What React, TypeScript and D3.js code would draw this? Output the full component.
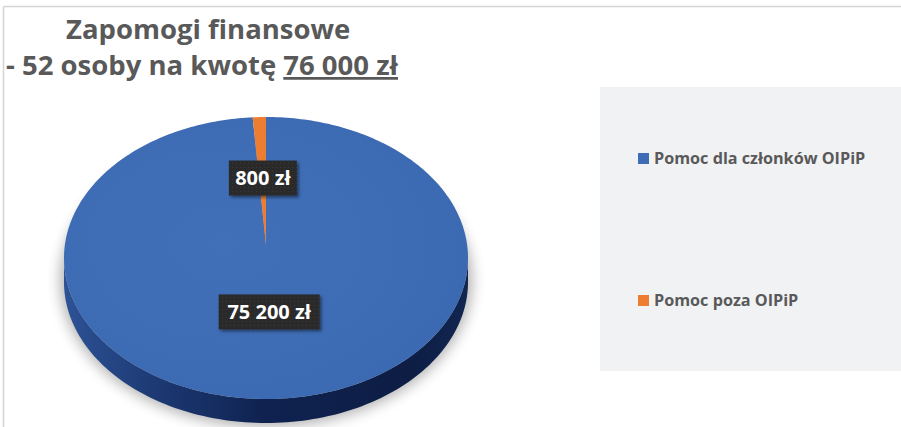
import React from "react";
import * as d3 from "d3";

const categories = ["Pomoc dla członków OIPiP", "Pomoc poza OIPiP"];
const values = [75200, 800];
const valueLabels = ["75 200 zł", "800 zł"];
const colors = ["#3f6db5", "#ed7d31"];
const titleLine1 = "Zapomogi finansowe";
const titlePrefix = "- 52 osoby na kwotę ";
const titleAmount = "76 000 zł";

const W = 901;
const H = 427;

export default function App() {
  const cx = 266, cy = 258, rx = 202, ry = 141, depth = 24;
  const apex = { x: 266, y: 245 };
  const pie = d3.pie<number>().sort(null).startAngle(0).endAngle(2 * Math.PI);
  const arcs = pie(values);

  const pt = (a: number, dy = 0) => [cx + rx * Math.sin(a), cy - ry * Math.cos(a) + dy] as [number, number];
  const line = d3.line<[number, number]>();

  const topPath = (a0: number, a1: number) => {
    const n = Math.max(4, Math.ceil(((a1 - a0) / (2 * Math.PI)) * 360));
    const pts: [number, number][] = d3.range(n + 1).map((i) => pt(a0 + ((a1 - a0) * i) / n));
    return line([[apex.x, apex.y], ...pts]) + "Z";
  };
  const sidePath = (a0: number, a1: number) => {
    const s = Math.max(a0, Math.PI / 2);
    const e = Math.min(a1, (3 * Math.PI) / 2);
    if (e <= s) return null;
    const n = 120;
    const topPts: [number, number][] = d3.range(n + 1).map((i) => pt(s + ((e - s) * i) / n));
    const botPts: [number, number][] = d3.range(n + 1).map((i) => pt(e - ((e - s) * i) / n, depth));
    return line([...topPts, ...botPts]) + "Z";
  };

  const labelPos = (a: number) => ({
    x: apex.x + 0.47 * rx * Math.sin(a),
    y: apex.y - 0.475 * ry * Math.cos(a),
  });

  const titleColor = "#595959";
  const titleFont = "'Open Sans', sans-serif";

  const legendY = d3.scalePoint<string>().domain(categories).range([158.5, 300.5]);

  return (
    <svg
      width={W}
      height={H}
      style={{ position: "absolute", left: 0, top: 0, background: "#fff" }}
      fontFamily={titleFont}
    >
      <defs>
        <filter id="shadowBlur" x="-20%" y="-20%" width="140%" height="140%">
          <feGaussianBlur stdDeviation="7" />
        </filter>
        <filter id="boxShadow" x="-20%" y="-30%" width="150%" height="170%">
          <feDropShadow dx="2" dy="2" stdDeviation="1.5" floodColor="#000" floodOpacity="0.45" />
        </filter>
        <pattern id="dots" width="4" height="4" patternUnits="userSpaceOnUse">
          <rect width="4" height="4" fill="#2a2a2a" />
          <rect x="1" y="1" width="1" height="1" fill="#3c3c3c" />
        </pattern>
        <linearGradient id="sideGrad" x1="0" x2="1" y1="0" y2="0">
          <stop offset="0" stopColor="#2d5296" />
          <stop offset="0.22" stopColor="#1d3a74" />
          <stop offset="0.5" stopColor="#0f2250" />
          <stop offset="0.85" stopColor="#0d1d44" />
          <stop offset="1" stopColor="#112650" />
        </linearGradient>
        <radialGradient id="topGrad" cx="0.4" cy="0.45" r="0.7">
          <stop offset="0" stopColor="#4170b9" />
          <stop offset="1" stopColor="#3b69b1" />
        </radialGradient>
      </defs>

      {/* frame */}
      <line x1={3.5} x2={W} y1={6.5} y2={6.5} stroke="#d4d4d4" strokeWidth={1.5} />
      <line x1={3.5} x2={3.5} y1={6.5} y2={H} stroke="#d4d4d4" strokeWidth={1.5} />

      {/* title */}
      <text x={66} y={39} fill={titleColor} fontSize={27.5} fontWeight={700}>
        {titleLine1}
      </text>
      <text x={6} y={75} fill={titleColor} fontSize={27.5} fontWeight={700}>
        {titlePrefix}
        <tspan textDecoration="underline">{titleAmount}</tspan>
      </text>

      {/* legend panel */}
      <rect x={600} y={87} width={W - 600} height={284} fill="#f1f2f4" />
      {categories.map((c, i) => (
        <g key={c} transform={`translate(638, ${legendY(c)})`}>
          <rect x={0} y={-5.5} width={11} height={11} fill={colors[i]} />
          <text x={16} y={5.5} fontSize={16.2} fontWeight={700} fill={titleColor}>
            {c}
          </text>
        </g>
      ))}

      {/* pie shadow */}
      <ellipse cx={cx} cy={cy + 22} rx={rx + 4} ry={ry + 6} fill="#000" opacity={0.3} filter="url(#shadowBlur)" />

      {/* sides */}
      {arcs.map((a, i) => {
        const d = sidePath(a.startAngle, a.endAngle);
        return d ? <path key={"s" + i} d={d} fill={i === 0 ? "url(#sideGrad)" : "#b85e1f"} /> : null;
      })}

      {/* top faces */}
      {arcs.map((a, i) => (
        <path key={"t" + i} d={topPath(a.startAngle, a.endAngle)} fill={i === 0 ? "url(#topGrad)" : colors[i]} />
      ))}

      {/* labels */}
      {arcs.map((a, i) => {
        const p = labelPos((a.startAngle + a.endAngle) / 2);
        const label = valueLabels[i];
        const w = label.length * 11 + 2;
        return (
          <g key={"l" + i} transform={`translate(${p.x}, ${p.y})`}>
            <rect x={-w / 2} y={-17.5} width={w} height={35} fill="url(#dots)" filter="url(#boxShadow)" />
            <text x={0} y={7} textAnchor="middle" fontSize={20} fontWeight={700} fill="#fff">
              {label}
            </text>
          </g>
        );
      })}
    </svg>
  );
}
